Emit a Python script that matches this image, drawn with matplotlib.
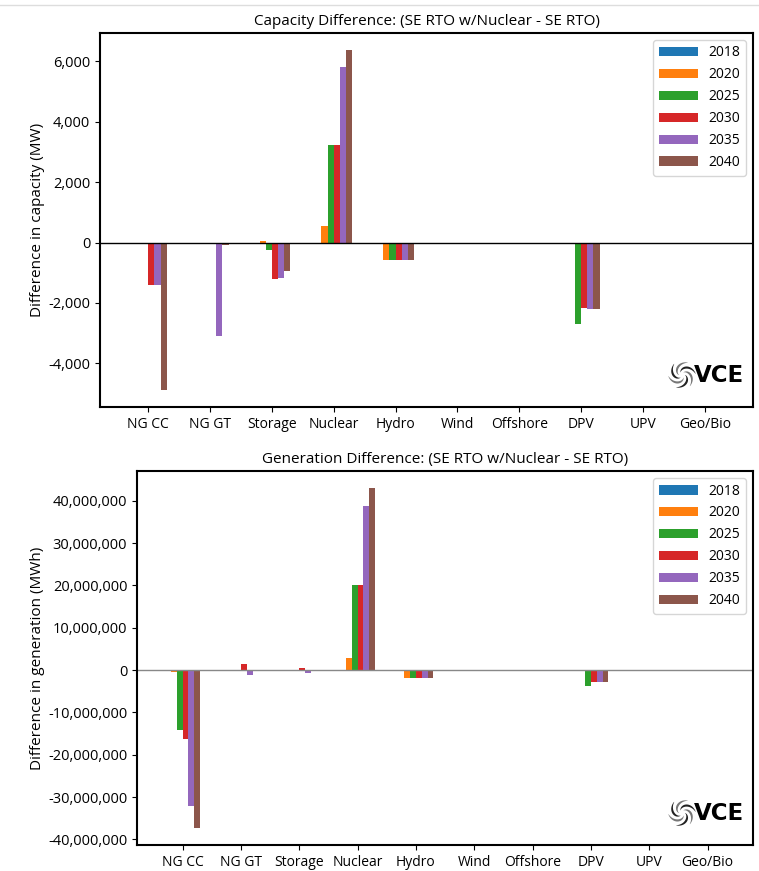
import numpy as np
from matplotlib import pyplot as plt
from matplotlib.lines import Line2D
from matplotlib.patches import Polygon
from matplotlib.ticker import FuncFormatter

plt.rcParams['font.family'] = ['Open Sans', 'DejaVu Sans']

techs = ['NG CC', 'NG GT', 'Storage', 'Nuclear', 'Hydro', 'Wind', 'Offshore', 'DPV', 'UPV', 'Geo/Bio']
years = ['2018', '2020', '2025', '2030', '2035', '2040']
colors = ['#1f77b4', '#ff7f0e', '#2ca02c', '#d62728', '#9467bd', '#8c564b']

# capacity difference, MW (one list per year, in tech order)
cap_2018 = [0, 0, 0, 0, 0, 0, 0, 0, 0, 0]
cap_2020 = [0, 0, 45, 560, -575, 0, 0, 0, 0, 0]
cap_2025 = [0, 0, -230, 3240, -575, 0, 0, -2700, 0, 0]
cap_2030 = [-1390, 0, -1215, 3240, -575, 0, 0, -2165, 0, 0]
cap_2035 = [-1390, -3085, -1160, 5800, -575, 0, 0, -2200, 0, 0]
cap_2040 = [-4880, -75, -950, 6375, -575, 0, 0, -2200, 0, 0]

# generation difference, MWh
gen_2018 = [0, 0, 0, 0, 0, 0, 0, 0, 0, 0]
gen_2020 = [-400000, 0, 0, 2830000, -1800000, 0, 0, 0, 0, 0]
gen_2025 = [-14200000, 0, 0, 20000000, -1800000, 0, 0, -3750000, 0, 0]
gen_2030 = [-16300000, 1340000, 470000, 20000000, -1800000, 0, 0, -2830000, -50000, 0]
gen_2035 = [-32200000, -1100000, -630000, 38800000, -1800000, -200000, 0, -2830000, 0, 0]
gen_2040 = [-37300000, 0, 0, 43000000, -1800000, -100000, 0, -2830000, -80000, 0]

cap = [cap_2018, cap_2020, cap_2025, cap_2030, cap_2035, cap_2040]
gen = [gen_2018, gen_2020, gen_2025, gen_2030, gen_2035, gen_2040]

W, H = 759.0, 871.0
fig = plt.figure(figsize=(W / 100, H / 100), dpi=100)
ax1 = fig.add_axes([100 / W, 1 - 407 / H, 653 / W, 374 / H])
ax2 = fig.add_axes([137 / W, 1 - 845 / H, 616 / W, 374 / H])

# thin rule across the top of the page
fig.add_artist(Line2D([0, 1], [1 - 5 / H, 1 - 5 / H], color='#dddddd', lw=1, transform=fig.transFigure))

comma = FuncFormatter(lambda v, p: '{:,.0f}'.format(v))


def vce_logo(cx, cy):
    # swirl mark, drawn in its own little square axes (pixel centre cx, cy)
    s = 28
    lax = fig.add_axes([(cx - s / 2) / W, 1 - (cy + s / 2) / H, s / W, s / H])
    lax.set_xlim(-1, 1)
    lax.set_ylim(-1, 1)
    lax.set_aspect('equal')
    lax.axis('off')
    t = np.linspace(0, 1, 40)
    for k in range(6):
        phi = k * np.pi / 3
        th = phi - t * 2.0
        r = 0.22 + 0.75 * t
        w = 0.16 * np.sin(np.pi * t) + 0.02
        outer = np.c_[(r + w / 2) * np.cos(th), (r + w / 2) * np.sin(th)]
        inner = np.c_[(r - w / 2) * np.cos(th), (r - w / 2) * np.sin(th)][::-1]
        shade = '#222222' if k % 2 == 0 else '#777777'
        lax.add_patch(Polygon(np.r_[outer, inner], closed=True, color=shade, lw=0))
    fig.text((cx + 12) / W, 1 - cy / H, 'VCE', ha='left', va='center',
             fontsize=16.5, fontweight='bold', color='black', family='DejaVu Sans')


def draw(ax, data, title, ylabel, zero_color):
    x = np.arange(len(techs))
    w = 0.1
    for i, yr in enumerate(years):
        ax.bar(x + (i - 2.5) * w, data[i], w, color=colors[i], label=yr)
    ax.axhline(0, color=zero_color, lw=1)
    ax.set_xticks(x)
    ax.set_xticklabels(techs, fontsize=10)
    ax.tick_params(axis='y', labelsize=10.5)
    ax.yaxis.set_major_formatter(comma)
    ax.set_title(title, fontsize=11)
    ax.set_ylabel(ylabel, fontsize=11)
    for s in ax.spines.values():
        s.set_linewidth(1.5)
    ax.legend(loc='upper right', fontsize=10, handlelength=2.8)


draw(ax1, cap, 'Capacity Difference: (SE RTO w/Nuclear - SE RTO)', 'Difference in capacity (MW)', 'black')
draw(ax2, gen, 'Generation Difference: (SE RTO w/Nuclear - SE RTO)', 'Difference in generation (MWh)', '#888888')
ax1.yaxis.set_label_coords(-0.084, 0.5)
ax2.yaxis.set_label_coords(-0.149, 0.5)

vce_logo(682, 375)
vce_logo(682, 813)

fig.savefig('out.png', dpi=100)
